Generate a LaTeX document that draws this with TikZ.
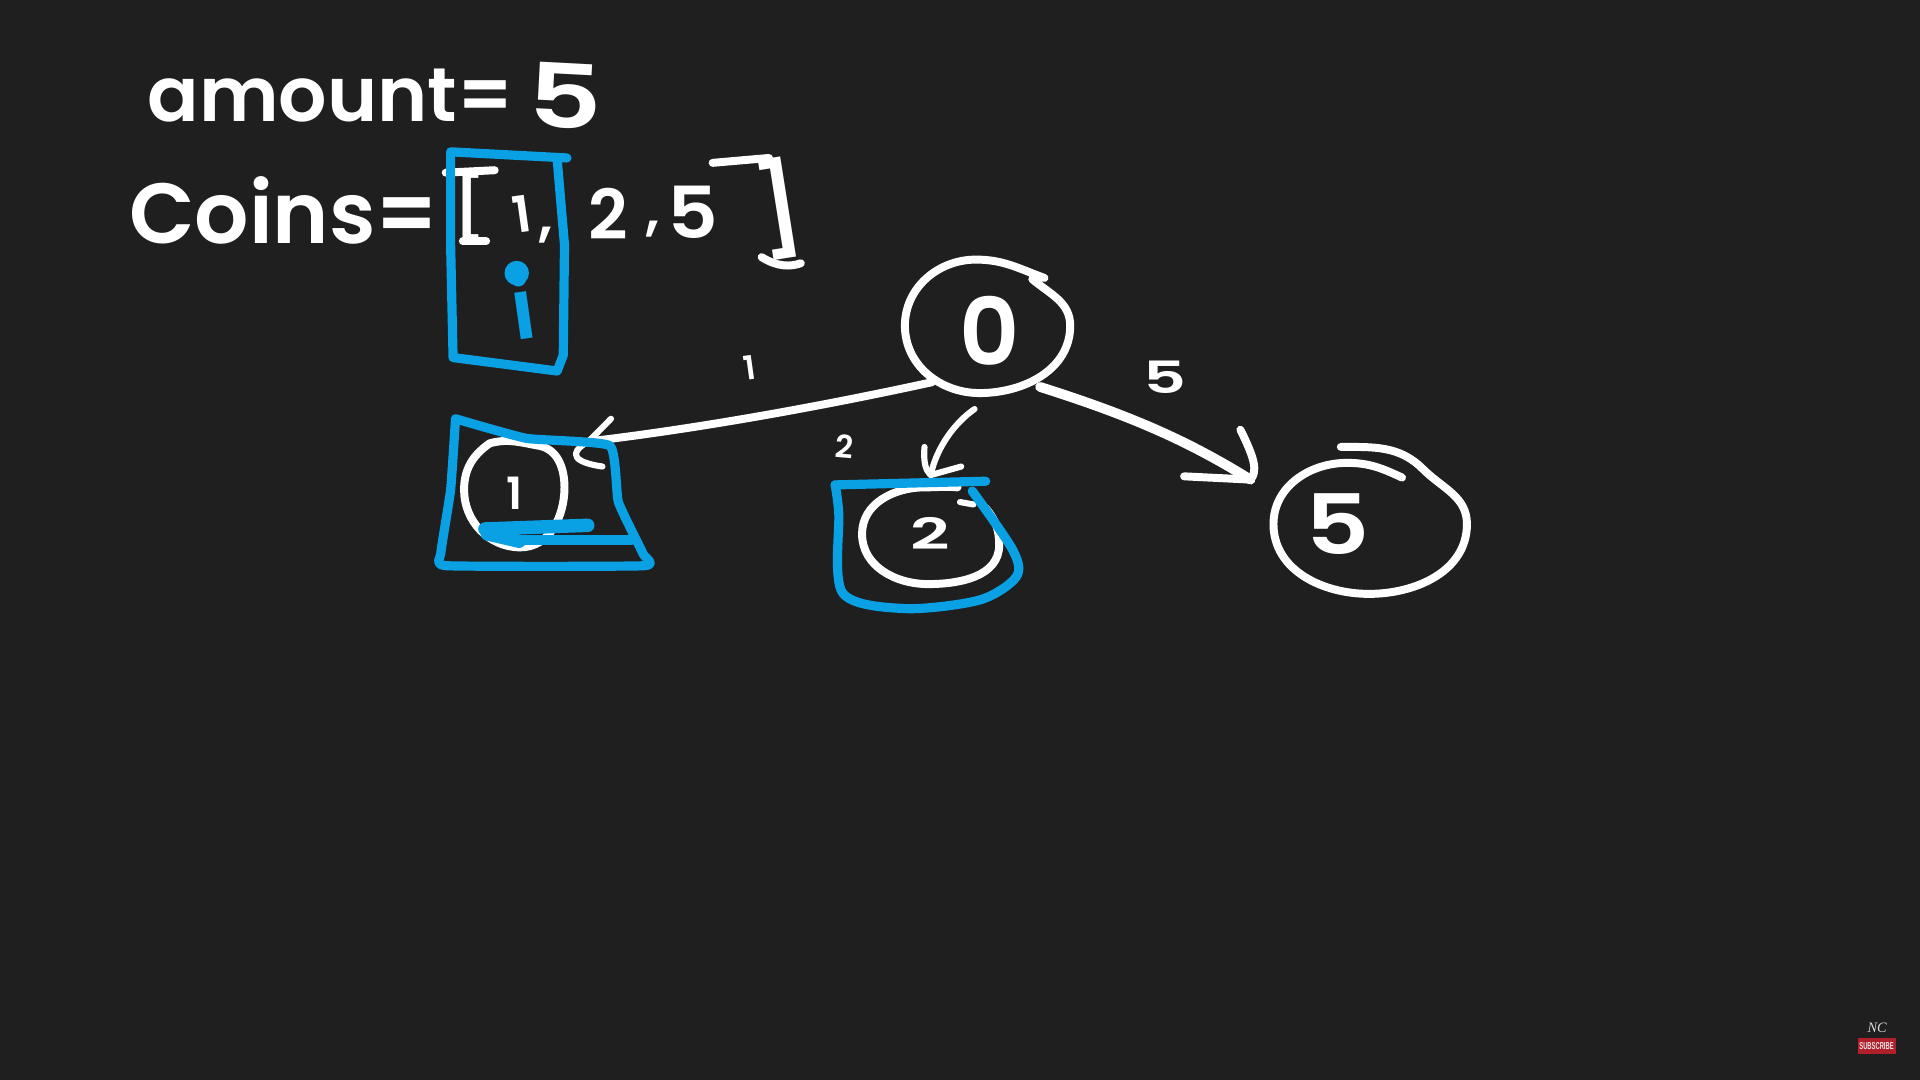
\documentclass[tikz,border=0pt]{standalone}
\usepackage{fontspec}
\usetikzlibrary{shapes.geometric}
\setmainfont{Poppins SemiBold}
\newfontfamily\logoserif{Liberation Serif}
\newfontfamily\logosans{Liberation Sans}
\newcommand{\fsz}[1]{\fontsize{#1}{#1}\selectfont}
\def\uu{0.06cm}
\definecolor{bgdark}{HTML}{1F1F1F}
\definecolor{penblue}{HTML}{09A0E4}
\definecolor{logored}{HTML}{B0202A}
\tikzset{
  pen/.style={draw=white,line width=6.5*\uu,line cap=round,line join=round},
  thinpen/.style={draw=white,line width=5*\uu,line cap=round,line join=round},
  bluepen/.style={draw=penblue,line width=7.5*\uu,line cap=round,line join=round},
  hand/.style={text=white,inner sep=0pt,outer sep=0pt},
  state/.style={ellipse,text=white,inner sep=0pt,outer sep=0pt},
}
\begin{document}
\begin{tikzpicture}[x=\uu,y=-\uu]
\fill[bgdark] (0,0) rectangle (1568,882);
\useasboundingbox (0,0) rectangle (1568,882);

% header text
\node[hand,font=\fsz{106}] (amt) at (270,78) {amount=};
\node[hand,font=\fsz{124},rotate=-3,xscale=1.3] (amtv) at (462,78) {5};
\node[hand,font=\fsz{119}] (coins) at (232,172) {Coins=};
\node[hand,font=\fsz{88}] (lb) at (384,169) {[};
\draw[pen] (364,141) -- (404,139);
\draw[pen] (378,197) -- (397,197);
\node[hand,font=\fsz{70},rotate=8] (c1) at (426,175) {1};
\node[hand,font=\fsz{80}] (cm1) at (446,192) {,};
\node[hand,font=\fsz{96}] (c2) at (497,175) {2};
\node[hand,font=\fsz{80}] (cm2) at (533,187) {,};
\node[hand,font=\fsz{100},xscale=1.1] (c5) at (566,173) {5};
\node[hand,font=\fsz{126},rotate=9] (rb) at (636,170) {]};
\draw[pen] (582,133) -- (628,129);
\draw[pen] (622,210) .. controls (635,218) and (645,218) .. (654,215);

% nodes
\node[state,minimum width=136*\uu,minimum height=116*\uu,font=\fsz{130}] (n0) at (808,270) {0};
\node[state,minimum width=160*\uu,minimum height=130*\uu,font=\fsz{62}] (n1) at (420,403) {1};
\node[state,minimum width=116*\uu,minimum height=98*\uu] (n2) at (760,437) {};
\node[hand,font=\fsz{60},xscale=1.6] (n2t) at (760,436) {2};
\node[state,minimum width=220*\uu,minimum height=140*\uu] (n5) at (1118,425) {};
\node[hand,font=\fsz{116},xscale=1.2] (n5t) at (1092,428) {5};

% hand-drawn rings
\draw[pen] (853,227) to[out=160,in=0] (797,212) to[out=180,in=90] (739,266) to[out=-90,in=180] (800,321) to[out=0,in=-90] (874,266) to[out=90,in=-40] (843,228);
\draw[pen] (400,362) to[out=15,in=170] (440,364) to[out=-10,in=90] (461,398) to[out=-90,in=0] (425,447) to[out=180,in=-90] (379,400) to[out=90,in=215] (400,362);
\draw[pen] (782,398) to[out=175,in=0] (755,398) to[out=180,in=90] (704,436) to[out=-90,in=180] (758,477) to[out=0,in=-90] (816,445) to[out=90,in=-50] (805,415);
\draw[thinpen] (784,410) -- (795,412);
\draw[pen] (1095,365) to[out=0,in=135] (1162,383) to[out=-45,in=90] (1198,428) to[out=-90,in=0] (1118,485) to[out=180,in=-90] (1040,428) to[out=90,in=180] (1100,378) to[out=0,in=155] (1145,390);

% connectors
\draw[pen] (n0.222) .. controls (670,332) and (570,350) .. (n1.35);
\draw[thinpen] (n1.35) -- (499,342);
\draw[thinpen] (n1.35) .. controls (472,365) and (458,376) .. (492,381);
\draw[thinpen] ([yshift=-7*\uu]n0.258) .. controls (780,345) and (765,365) .. (n2.90);
\draw[thinpen] (755,365) .. controls (754,378) and (756,384) .. (n2.90) -- (785,381);
\draw[draw=white,line width=8*\uu,line cap=round,line join=round] (n0.-48) .. controls (925,340) and (970,360) .. (n5.161);
\draw[pen] (1013,351) .. controls (1025,375) and (1027,385) .. (n5.161) -- (967,389);

% edge labels
\node[hand,font=\fsz{46},rotate=8] (w1) at (612,300) {1};
\node[hand,font=\fsz{44},rotate=-5] (w2) at (690,365) {2};
\node[hand,font=\fsz{62},xscale=1.5] (w5) at (951,308) {5};

% blue highlights
\draw[bluepen] (463,129) -- (368,124) -- (368,200) -- (370,292) -- (455,303) -- (460,290) -- (461,200) -- (455,130);
\node[hand,font=\fsz{118},text=penblue,rotate=8] (iv) at (427,250) {i};
\fill[penblue] (422,223) circle (10);
\draw[bluepen] plot[smooth,tension=.25] coordinates {(372,342) (430,358) (498,364) (505,410) (525,452) (526,462) (365,462) (360,452) (368,400) (372,342)};
\draw[bluepen,line width=11*\uu] (396,432) -- (480,429);
\draw[bluepen,line width=11*\uu] (398,436) -- (424,442);
\draw[bluepen] (415,441) -- (516,441);
\draw[bluepen] (805,393) -- (682,396);
\draw[bluepen] plot[smooth,tension=.5] coordinates {(682,396) (685,419) (688,484) (739,497) (800,490) (830,471) (827,449) (794,401)};

% logo
\node[hand,font={\logoserif\itshape\fsz{20}},text=white!85!black] (nc) at (1533,839) {NC};
\fill[logored] (1517,848) rectangle (1548,861);
\node[hand,font={\logosans\bfseries\fsz{14}},text=white!90!black,xscale=.58] (sub) at (1532.5,854.5) {SUBSCRIBE};
\end{tikzpicture}
\end{document}
